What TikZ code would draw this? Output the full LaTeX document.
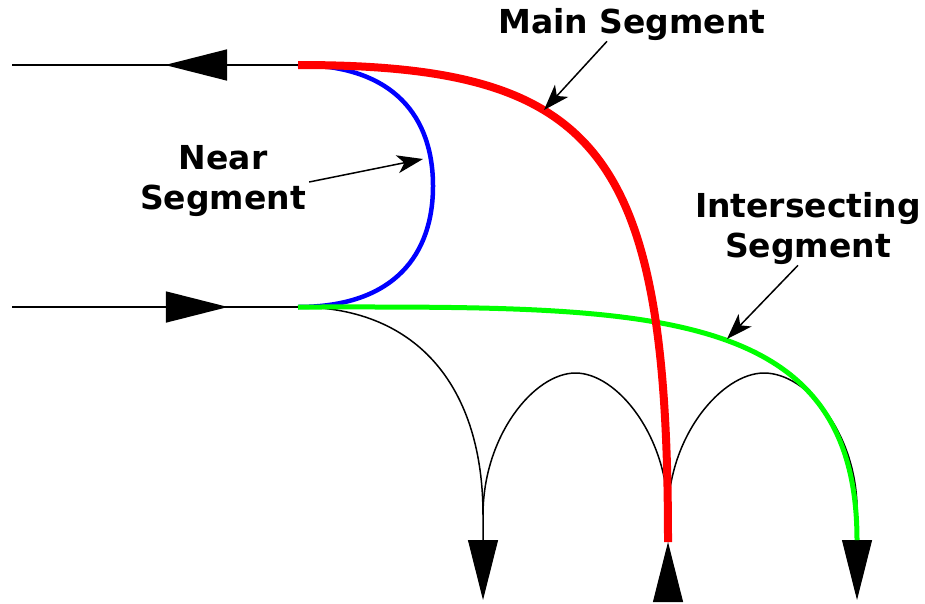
\documentclass[tikz,border=0pt]{standalone}
\usepackage{fontspec}
\setmainfont{DejaVu Sans}
\usetikzlibrary{arrows.meta,decorations.markings}

\begin{document}
\begin{tikzpicture}[x=1pt, y=-1pt,
  flow/.style={line width=1.5pt},
  exit/.style={-{Triangle[length=60pt,width=30pt]}, line width=1pt},
  midarrow/.style={postaction={decorate}, decoration={markings,
    mark=at position #1 with {\arrow{Triangle[length=62pt,width=31pt]}}}},
  mainseg/.style={red, line width=8pt},
  nearseg/.style={blue, line width=4.5pt},
  interseg/.style={green, line width=5pt},
  lbl/.style={font=\fontsize{33}{40}\selectfont\bfseries, align=center,
    inner sep=0pt},
  callout/.style={-{Stealth[length=26pt,width=18pt,inset=7pt]}, line width=1.5pt},
]
  \useasboundingbox (0,0) rectangle (925,603);
  % Lane ends and the three exits
  \coordinate (topL) at (12,65);
  \coordinate (topR) at (298,65);
  \coordinate (botL) at (12,307);
  \coordinate (botR) at (298,307);
  \coordinate (archA) at (483,515);
  \coordinate (archB) at (668,515);
  \coordinate (archC) at (857,515);
  \coordinate (footA) at (483,540);
  \coordinate (footB) at (668,542);
  \coordinate (footC) at (857,540);
  \coordinate (tipA) at (483,600);
  \coordinate (baseB) at (668,600);
  \coordinate (tipC) at (857,600);

  % Incoming and outgoing lanes
  \draw[flow, midarrow=0.465] (topR) -- (topL);
  \draw[flow, midarrow=0.755] (botL) -- (botR);

  % Thin turns between the exits
  \draw[flow] (botR) .. controls (420,307) and (483,390) .. (archA) -- (footA);
  \draw[flow] (archA) .. controls (483,436) and (534,373) .. (575.5,373)
    .. controls (617,373) and (668,436) .. (archB) -- (footB);
  \draw[flow] (archB) .. controls (668,436) and (722,373) .. (764,373)
    .. controls (808,373) and (859,436) .. (archC) -- (footC);

  % Exit arrows
  \draw[exit] (footA) -- (tipA);
  \draw[exit] (baseB) -- (footB);
  \draw[exit] (footC) -- (tipC);

  % Segments
  \draw[nearseg] (topR) .. controls (395,65) and (433,118) .. (433,186)
    .. controls (433,254) and (395,307) .. (botR);
  \draw[interseg] (botR) .. controls (640,307) and (857,300) .. (footC);
  \draw[mainseg] (topR) .. controls (600,65) and (668,150) .. (footB);

  % Labels
  \node[lbl] (lblMain) at (632,25) {Main Segment};
  \node[lbl] (lblNear) at (223,181) {Near\\Segment};
  \node[lbl] (lblInter) at (808,229) {Intersecting\\Segment};
  \coordinate (mainPt) at (544,110);
  \coordinate (nearPt) at (423,159);
  \coordinate (interPt) at (727,339);
  \draw[callout] ([xshift=-25pt]lblMain.south) -- (mainPt);
  \draw[callout] ([xshift=3pt,yshift=-1pt]lblNear.east) -- (nearPt);
  \draw[callout] ([xshift=-10pt]lblInter.south) -- (interPt);
\end{tikzpicture}
\end{document}
